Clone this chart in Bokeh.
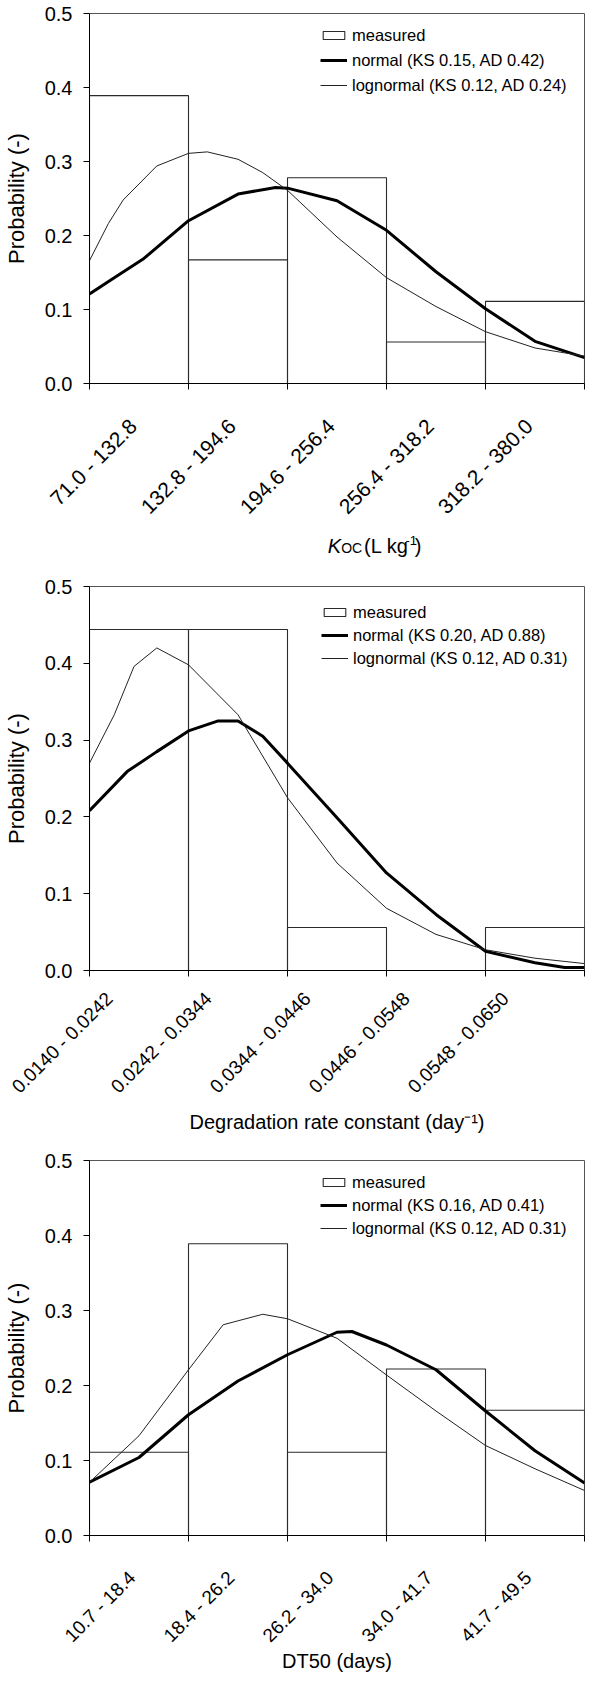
from math import pi
from bokeh.plotting import figure
from bokeh.models import Range1d, FixedTicker, Legend, LegendItem, PrintfTickFormatter
from bokeh.core.properties import value
from bokeh.layouts import column
from bokeh.embed import file_html
from bokeh.resources import INLINE

FONT = "Liberation Sans"

# ---------------- data ----------------
# Panel 1: Koc
koc_bins = ["71.0 - 132.8", "132.8 - 194.6", "194.6 - 256.4", "256.4 - 318.2", "318.2 - 380.0"]
koc_measured = [0.389, 0.167, 0.278, 0.056, 0.111]
koc_normal_x = [0, 0.25, 0.55, 1.0, 1.5, 1.88, 2.0, 2.5, 3.0, 3.5, 4.0, 4.5, 5.0]
koc_normal_y = [0.121, 0.143, 0.169, 0.220, 0.256, 0.265, 0.264, 0.247, 0.207, 0.151, 0.101, 0.057, 0.035]
koc_lognormal_x = [0, 0.19, 0.34, 0.68, 1.0, 1.19, 1.5, 1.75, 2.0, 2.5, 3.0, 3.5, 4.0, 4.5, 5.0]
koc_lognormal_y = [0.166, 0.216, 0.248, 0.294, 0.311, 0.313, 0.303, 0.285, 0.261, 0.198, 0.143, 0.104, 0.070, 0.048, 0.037]
koc_legend = ["measured", "normal (KS 0.15, AD 0.42)", "lognormal (KS 0.12, AD 0.24)"]

# Panel 2: degradation rate constant
deg_bins = ["0.0140 - 0.0242", "0.0242 - 0.0344", "0.0344 - 0.0446", "0.0446 - 0.0548", "0.0548 - 0.0650"]
deg_measured = [0.444, 0.444, 0.056, 0.0, 0.056]
deg_normal_x = [0, 0.38, 0.68, 1.0, 1.3, 1.5, 1.75, 2.0, 2.5, 3.0, 3.5, 4.0, 4.5, 4.8, 5.0]
deg_normal_y = [0.208, 0.259, 0.285, 0.312, 0.325, 0.325, 0.305, 0.270, 0.199, 0.127, 0.073, 0.025, 0.010, 0.004, 0.004]
deg_lognormal_x = [0, 0.25, 0.45, 0.68, 1.0, 1.5, 2.0, 2.5, 3.0, 3.5, 4.0, 4.5, 5.0]
deg_lognormal_y = [0.270, 0.333, 0.396, 0.420, 0.398, 0.333, 0.225, 0.140, 0.081, 0.047, 0.027, 0.016, 0.009]
deg_legend = ["measured", "normal (KS 0.20, AD 0.88)", "lognormal (KS 0.12, AD 0.31)"]

# Panel 3: DT50
dt_bins = ["10.7 - 18.4", "18.4 - 26.2", "26.2 - 34.0", "34.0 - 41.7", "41.7 - 49.5"]
dt_measured = [0.111, 0.389, 0.111, 0.222, 0.167]
dt_normal_x = [0, 0.5, 1.0, 1.5, 2.0, 2.5, 2.65, 3.0, 3.5, 4.0, 4.5, 5.0]
dt_normal_y = [0.071, 0.104, 0.161, 0.206, 0.241, 0.271, 0.272, 0.254, 0.221, 0.166, 0.113, 0.070]
dt_lognormal_x = [0, 0.5, 1.0, 1.35, 1.75, 2.0, 2.5, 3.0, 3.5, 4.0, 4.5, 5.0]
dt_lognormal_y = [0.071, 0.133, 0.221, 0.281, 0.295, 0.289, 0.263, 0.214, 0.166, 0.120, 0.089, 0.060]
dt_legend = ["measured", "normal (KS 0.16, AD 0.41)", "lognormal (KS 0.12, AD 0.31)"]

y_ticks = [0.0, 0.1, 0.2, 0.3, 0.4, 0.5]


def make_panel(bins, measured, nx, ny, lx, ly, legend_labels, height,
               border_top, border_bottom, leg_loc, leg_spacing,
               xlab_size, xlab_standoff, xlab_shift, x_title=None, x_title_standoff=0):
    n = len(bins)
    p = figure(width=586, height=height, x_range=Range1d(0, n), y_range=Range1d(0, 0.5),
               output_backend="svg", toolbar_location=None,
               min_border_left=84, min_border_right=2,
               min_border_top=border_top, min_border_bottom=border_bottom)
    p.xgrid.visible = False
    p.ygrid.visible = False
    p.outline_line_color = "#555555"
    p.outline_line_width = 1

    lefts = list(range(n))
    rights = [i + 1 for i in range(n)]
    bars = p.quad(left=lefts, right=rights, bottom=0, top=measured,
                  fill_color=None, line_color="#2a2a2a", line_width=1.1)
    normal = p.line(nx, ny, line_color="black", line_width=3)
    lognormal = p.line(lx, ly, line_color="#222222", line_width=1)

    # x axis: labels near the bin centres, tick marks at bin edges
    xa = p.xaxis[0]
    label_pos = [i + 0.5 - xlab_shift for i in range(n)]
    xa.ticker = FixedTicker(ticks=label_pos, minor_ticks=list(range(n + 1)))
    xa.major_label_overrides = {pos: b for pos, b in zip(label_pos, bins)}
    xa.major_tick_out = 0
    xa.major_tick_in = 0
    xa.minor_tick_out = 6
    xa.minor_tick_in = 0
    xa.minor_tick_line_color = "black"
    xa.axis_line_color = "black"
    xa.major_label_orientation = pi / 4
    xa.major_label_standoff = xlab_standoff
    xa.major_label_text_font = FONT
    xa.major_label_text_font_size = xlab_size
    xa.major_label_text_color = "black"
    if x_title is not None:
        xa.axis_label = x_title
        xa.axis_label_text_font = FONT
        xa.axis_label_text_font_size = "20px"
        xa.axis_label_text_font_style = "normal"
        xa.axis_label_text_color = "black"
        xa.axis_label_standoff = x_title_standoff

    ya = p.yaxis[0]
    ya.ticker = FixedTicker(ticks=y_ticks, minor_ticks=[])
    ya.formatter = PrintfTickFormatter(format="%.1f")
    ya.major_tick_out = 6
    ya.major_tick_in = 0
    ya.major_tick_line_color = "black"
    ya.axis_line_color = "black"
    ya.major_label_standoff = 11
    ya.major_label_text_font = FONT
    ya.major_label_text_font_size = "20px"
    ya.major_label_text_color = "black"
    ya.axis_label = "Probability (-)"
    ya.axis_label_text_font = FONT
    ya.axis_label_text_font_size = "22px"
    ya.axis_label_text_font_style = "normal"
    ya.axis_label_text_color = "black"
    ya.axis_label_standoff = 13

    legend = Legend(items=[LegendItem(label=legend_labels[0], renderers=[bars]),
                           LegendItem(label=legend_labels[1], renderers=[normal]),
                           LegendItem(label=legend_labels[2], renderers=[lognormal])],
                    location=leg_loc, glyph_width=27, glyph_height=10, label_height=20,
                    spacing=leg_spacing, padding=0, margin=0, label_standoff=5,
                    background_fill_alpha=0, border_line_alpha=0,
                    label_text_font=FONT, label_text_font_size="16.5px",
                    label_text_color="black")
    p.add_layout(legend)
    return p


def title_fig(height, pieces):
    """A strip holding an axis title (pieces: text, x, baseline-y, size, style, align)."""
    t = figure(width=586, height=height, x_range=Range1d(0, 586), y_range=Range1d(0, height),
               output_backend="svg", toolbar_location=None, min_border=0,
               x_axis_type=None, y_axis_type=None)
    t.grid.visible = False
    t.outline_line_color = None
    for txt, x, y, size, style, align in pieces:
        t.text(x=[x], y=[y], text=[txt], text_font=value(FONT), text_font_size=size,
               text_font_style=style, text_align=align, text_baseline="alphabetic",
               text_color="black")
    return t


p1 = make_panel(koc_bins, koc_measured, koc_normal_x, koc_normal_y,
                koc_lognormal_x, koc_lognormal_y, koc_legend,
                height=529, border_top=13, border_bottom=142, leg_loc=(231, 288), leg_spacing=5,
                xlab_size="21px", xlab_standoff=33, xlab_shift=0.06)
t1 = title_fig(38, [("K", 282, 22, "20px", "italic", "left"),
                    ("OC", 298, 20, "14px", "normal", "left"),
                    ("(L kg", 325, 22, "20px", "normal", "left"),
                    ("-1", 374, 27, "13px", "normal", "left"),
                    (")", 385, 22, "20px", "normal", "left")])

p2 = make_panel(deg_bins, deg_measured, deg_normal_x, deg_normal_y,
                deg_lognormal_x, deg_lognormal_y, deg_legend,
                height=570, border_top=19, border_bottom=167, leg_loc=(232, 302), leg_spacing=3,
                xlab_size="19px", xlab_standoff=19, xlab_shift=0.3,
                x_title="Degradation rate constant (day\u207b\u00b9)", x_title_standoff=4)

p3 = make_panel(dt_bins, dt_measured, dt_normal_x, dt_normal_y,
                dt_lognormal_x, dt_lognormal_y, dt_legend,
                height=537, border_top=23, border_bottom=137, leg_loc=(231, 297), leg_spacing=3,
                xlab_size="19px", xlab_standoff=33, xlab_shift=0.07,
                x_title="DT50 (days)", x_title_standoff=-7)

layout = column(p1, t1, p2, p3, spacing=0)
open("out.html", "w").write(file_html(layout, INLINE))
